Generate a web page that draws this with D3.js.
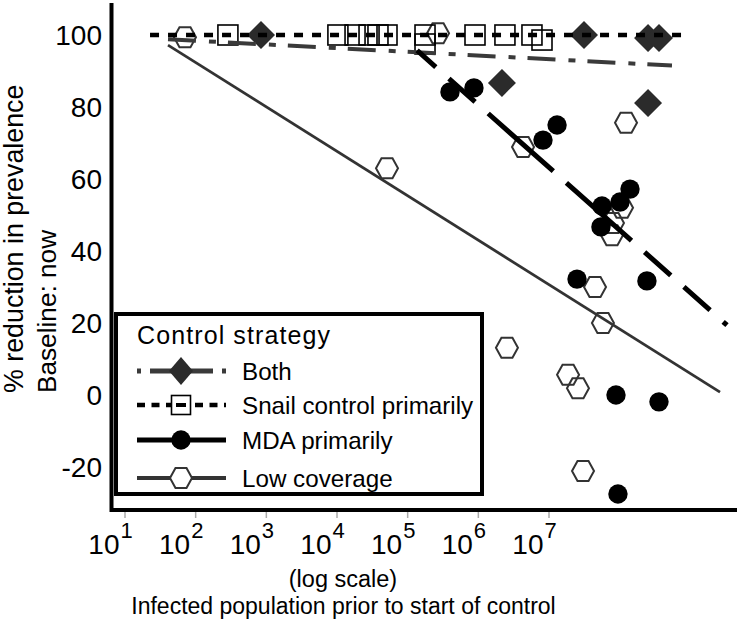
<!DOCTYPE html>
<html><head><meta charset="utf-8">
<script src="https://cdn.jsdelivr.net/npm/d3@7"></script>
<style>body{margin:0;background:#fff}svg{display:block}text{font-family:"Liberation Sans",Arial,Helvetica,sans-serif;fill:#000}</style>
</head><body><svg id="c" width="737" height="631"></svg>
<script>
// ---- data ----
const xTickValues = [1e1, 1e2, 1e3, 1e4, 1e5, 1e6, 1e7];
const xTickExponents = ["1", "2", "3", "4", "5", "6", "7"];
const yTickValues = [100, 80, 60, 40, 20, 0, -20];
const yTickLabels = ["100", "80", "60", "40", "20", "0", "-20"];

const seriesNames = ["Both", "Snail control primarily", "MDA primarily", "Low coverage"];

const bothPop = [840, 3.13e7, 2.52e8, 3.6e8, 2.16e6, 2.52e8];
const bothRed = [100, 100, 99.2, 99.2, 86.7, 81.1];

const snailPop = [286, 1.03e4, 1.8e4, 2.84e4, 3.8e4, 5.1e4, 1.76e5, 1.76e5, 8.97e5, 2.38e6, 5.74e6, 7.96e6];
const snailRed = [100, 100, 100, 100, 100, 100, 100, 97.5, 100, 100, 100, 98.6];

const mdaPop = [3.97e5, 8.67e5, 8.22e6, 1.3e7, 5.62e7, 1.01e8, 1.4e8, 5.43e7, 2.49e7, 2.43e8, 8.87e7, 3.6e8, 9.46e7];
const mdaRed = [84.2, 85.3, 70.8, 75, 52.5, 53.6, 57.2, 46.7, 32.2, 31.7, 0, -1.9, -27.5];

const lowPop = [70.6, 2.69e5, 1.23e8, 5.1e4, 4.29e6, 1.08e8, 8.04e7, 7.78e7, 4.48e7, 5.8e7, 2.54e6, 1.86e7, 2.57e7, 3.03e7];
const lowRed = [99.4, 100.5, 75.6, 63, 68.9, 52, 47.8, 44.4, 30, 20, 13.1, 5.6, 1.9, -21.1];

// fitted lines (endpoints)
const bothFitPop = [40.6, 5.5e8];   const bothFitRed = [98.8, 91.5];
const snailFitPop = [22.6, 7.9e8];  const snailFitRed = [100, 100];
const mdaFitPop = [1.36e5, 3.3e9];  const mdaFitRed = [95.7, 19.4];
const lowFitPop = [40.6, 2.63e9];   const lowFitRed = [97.2, 0.8];

// ---- chart ----
const svg = d3.select("#c");
const x = d3.scaleLog().domain([10, 1e7]).range([125, 549]);
const y = d3.scaleLinear().domain([-20, 100]).range([467, 35]);

const dark = "#333";
const zip = (a, b) => a.map((v, i) => [v, b[i]]);

const diamondPath = (w, h) => `M0,${-h}L${w},0L0,${h}L${-w},0Z`;
const hexPath = (w, h) => `M${-w},0L${-w/2},${-h}L${w/2},${-h}L${w},0L${w/2},${h}L${-w/2},${h}Z`;

function drawMarker(g, type, cx, cy, legend) {
  if (type === 0) {
    g.append("path").attr("d", legend ? diamondPath(12, 14) : diamondPath(14, 14))
      .attr("transform", `translate(${cx},${cy})`).attr("fill", "#2b2b2b");
  } else if (type === 1) {
    const s = legend ? 19 : 20;
    g.append("rect").attr("x", cx - s/2).attr("y", cy - s/2).attr("width", s).attr("height", s)
      .attr("fill", legend ? "#fff" : "none").attr("stroke", "#000").attr("stroke-width", 1.6);
    if (legend) g.append("line").attr("x1", cx - 5).attr("x2", cx + 5).attr("y1", cy).attr("y2", cy)
      .attr("stroke", "#000").attr("stroke-width", 4);
  } else if (type === 2) {
    g.append("circle").attr("cx", cx).attr("cy", cy).attr("r", 9.7).attr("fill", "#000");
  } else {
    g.append("path").attr("d", hexPath(11, 10)).attr("transform", `translate(${cx},${cy})`)
      .attr("fill", legend ? "#fff" : "none").attr("stroke", dark).attr("stroke-width", 2);
  }
}

const marks = svg.append("g");
const pts = [zip(bothPop, bothRed), zip(snailPop, snailRed), zip(mdaPop, mdaRed), zip(lowPop, lowRed)];
[3, 1, 2, 0].forEach(t => pts[t].forEach(d => drawMarker(marks, t, x(d[0]), y(d[1]), false)));

const lineGen = d3.line().x(d => x(d[0])).y(d => y(d[1]));
const fits = [
  {p: zip(bothFitPop, bothFitRed), color: "#3a3a3a", w: 4, dash: "28,13,7,12", off: 0},
  {p: zip(snailFitPop, snailFitRed), color: "#000", w: 4.5, dash: "9,9", off: 0},
  {p: zip(mdaFitPop, mdaFitRed), color: "#000", w: 5, dash: "35,17.5,35,17.5,87,17.5,87,17.5", off: 10},
  {p: zip(lowFitPop, lowFitRed), color: dark, w: 2.8, dash: null, off: 0}
];
fits.forEach(f => {
  svg.append("path").attr("d", lineGen(f.p)).attr("fill", "none").attr("stroke", f.color)
    .attr("stroke-width", f.w).attr("stroke-dasharray", f.dash).attr("stroke-dashoffset", f.off);
});

// axes
svg.append("line").attr("x1", 111.5).attr("x2", 111.5).attr("y1", 3).attr("y2", 512).attr("stroke", "#000").attr("stroke-width", 4);
svg.append("line").attr("x1", 110).attr("x2", 737).attr("y1", 510).attr("y2", 510).attr("stroke", "#000").attr("stroke-width", 4);

const xt = svg.append("g");
xTickValues.forEach((v, i) => {
  const px = x(v);
  xt.append("line").attr("x1", px).attr("x2", px).attr("y1", 512).attr("y2", 518).attr("stroke", "#aaa").attr("stroke-width", 1.5);
  xt.append("text").attr("x", px - 5.5).attr("y", 554).attr("text-anchor", "end").attr("font-size", 28).text("10");
  xt.append("text").attr("x", px - 4.5).attr("y", 538).attr("text-anchor", "start").attr("font-size", 22).text(xTickExponents[i]);
});

const yt = svg.append("g");
yTickValues.forEach((v, i) => {
  yt.append("text").attr("x", 102).attr("y", y(v)).attr("dy", "0.36em").attr("text-anchor", "end")
    .attr("font-size", 28).text(yTickLabels[i]);
});

svg.append("text").attr("x", 343).attr("y", 587).attr("text-anchor", "middle").attr("font-size", 23.5).text("(log scale)");
svg.append("text").attr("x", 343.5).attr("y", 614).attr("text-anchor", "middle").attr("font-size", 23).text("Infected population prior to start of control");

svg.append("text").attr("transform", "translate(23,393) rotate(-90)").attr("font-size", 26.8).text("% reduction in prevalence");
svg.append("text").attr("transform", "translate(56,393) rotate(-90)").attr("font-size", 26.2).text("Baseline: now");

// legend
const lg = svg.append("g");
lg.append("rect").attr("x", 116).attr("y", 314).attr("width", 366).attr("height", 180)
  .attr("fill", "#fff").attr("stroke", "#000").attr("stroke-width", 4);
lg.append("text").attr("x", 137).attr("y", 344).attr("font-size", 25).attr("letter-spacing", 1.1).text("Control strategy");
const rowsY = [371, 405, 440, 478];
const legendStyles = [
  {color: "#3a3a3a", w: 5, dash: "4,9,63,9,4"},
  {color: "#000", w: 4.5, dash: "8,6.5"},
  {color: "#000", w: 5, dash: null},
  {color: dark, w: 4, dash: null}
];
seriesNames.forEach((name, i) => {
  const cy = rowsY[i];
  const s = legendStyles[i];
  lg.append("line").attr("x1", 137).attr("x2", 226).attr("y1", cy).attr("y2", cy)
    .attr("stroke", s.color).attr("stroke-width", s.w).attr("stroke-dasharray", s.dash);
  drawMarker(lg, i, 181, cy, true);
  lg.append("text").attr("x", 242).attr("y", cy + 8.5).attr("font-size", 24.2).text(name);
});
</script></body></html>
